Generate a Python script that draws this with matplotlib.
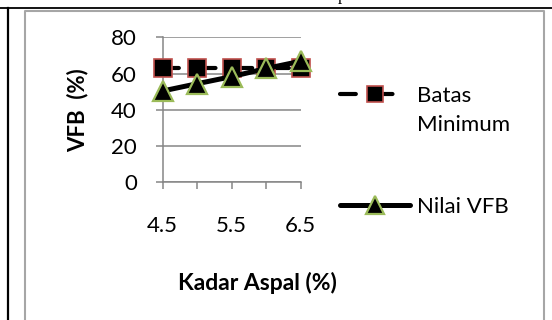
import matplotlib.pyplot as plt
from matplotlib.lines import Line2D

# Kadar aspal (%) vs VFB (%)
kadar_aspal = ["4.5", "5", "5.5", "6", "6.5"]
tick_labels = ["4.5", "", "5.5", "", "6.5"]
batas_minimum = [63, 63, 63, 63, 63]
nilai_vfb = [50.4, 54.4, 58.3, 62.8, 66.8]

plt.rcParams["font.family"] = ["Lato", "DejaVu Sans"]

GRID = "#868686"
RED = "#C0504D"
GREEN = "#9BBB59"

fig = plt.figure(figsize=(5.52, 3.2), dpi=100)

# page borders: table lines and the chart frame
fig.add_artist(Line2D([0, 1], [1 - 7.5 / 320] * 2, color="black", lw=1.3,
                      transform=fig.transFigure))
fig.add_artist(Line2D([7.5 / 552] * 2, [0, 1 - 7.5 / 320], color="black", lw=1.6,
                      transform=fig.transFigure))
fig.add_artist(Line2D([24.5 / 552, 24.5 / 552, 543.5 / 552, 543.5 / 552],
                      [0, 1 - 11 / 320, 1 - 11 / 320, 0], color="#A6A6A6", lw=1.5,
                      transform=fig.transFigure))
fig.text(342 / 552, 1.0, "p", family="Liberation Serif", fontsize=12,
         ha="center", va="baseline")

ax = fig.add_axes([162.7 / 552, 1 - 182.3 / 320, 138 / 552, 145 / 320])

x = range(len(kadar_aspal))
ax.plot(x, batas_minimum, color="black", lw=3.0, dashes=(3.8, 5.0),
        dash_capstyle="round", marker="s", markersize=13,
        markerfacecolor="black", markeredgecolor=RED, markeredgewidth=1.2,
        zorder=3, clip_on=False, label="Batas Minimum")
ax.plot(x, nilai_vfb, color="black", lw=3.6, solid_capstyle="round",
        marker="^", markersize=14, markerfacecolor="black",
        markeredgecolor=GREEN, markeredgewidth=1.6,
        zorder=4, clip_on=False, label="Nilai VFB")

ax.set_xlim(0, len(kadar_aspal) - 1)
ax.set_ylim(0, 80)
ax.set_yticks([0, 20, 40, 60, 80])
ax.set_xticks(list(x))
ax.set_xticklabels(tick_labels)

ax.grid(axis="y", color=GRID, lw=1.1)
ax.set_axisbelow(True)
for side in ("top", "right"):
    ax.spines[side].set_visible(False)
for side in ("left", "bottom"):
    ax.spines[side].set_color(GRID)
    ax.spines[side].set_linewidth(1.1)
ax.tick_params(axis="y", length=5, width=1.1, color=GRID, pad=13.5, labelsize=16)
ax.tick_params(axis="x", length=5, width=1.1, color=GRID, pad=19, labelsize=16)

ax.set_xlabel("Kadar Aspal (%)", fontsize=16.5, fontweight="bold")
ax.xaxis.set_label_coords((257 - 162.7) / 138, (182.3 - 283) / 145)
ax.xaxis.label.set_va("center")
ax.set_ylabel("VFB  (%)", fontsize=16, fontweight="bold")
ax.yaxis.set_label_coords((78 - 162.7) / 138, (182.3 - 110) / 145)
ax.yaxis.label.set_va("center")

# legend: the first entry's label wraps onto a second row
h_batas, h_vfb = ax.get_lines()
blank = Line2D([], [], linestyle="none")
leg_kw = dict(frameon=False, fontsize=16, handlelength=3.15, handletextpad=0.3,
              borderpad=0, borderaxespad=0, markerscale=0.9, loc="center left")
leg1 = fig.legend([h_batas, blank], ["Batas", "Minimum"], labelspacing=0.43,
                  bbox_to_anchor=(340 / 552, 1 - 110.3 / 320), **leg_kw)
leg2 = fig.legend([h_vfb], ["Nilai VFB"],
                  bbox_to_anchor=(340 / 552, 1 - 207 / 320), **leg_kw)

fig.savefig("out.png", dpi=100)
